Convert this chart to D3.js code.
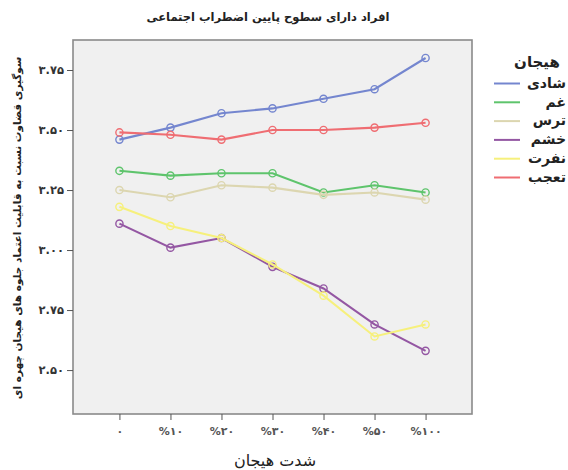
<!DOCTYPE html>
<html>
<head>
<meta charset="utf-8">
<script src="https://cdn.jsdelivr.net/npm/d3@7"></script>
<style>
  body { margin: 0; background: #fff; }
  text { font-family: "DejaVu Sans", sans-serif; }
</style>
</head>
<body>
<div id="chart"></div>
<script>
// data
var categories = ["0", "10", "20", "30", "40", "50", "100"];
var seriesNames = ["شادی", "غم", "ترس", "خشم", "نفرت", "تعجب"];
var seriesColors = ["#7486cf", "#5ec46c", "#dcd6b0", "#9457a3", "#f6f07c", "#ef6d72"];
var shadi = [3.46, 3.51, 3.57, 3.59, 3.63, 3.67, 3.80];
var gham = [3.33, 3.31, 3.32, 3.32, 3.24, 3.27, 3.24];
var tars = [3.25, 3.22, 3.27, 3.26, 3.23, 3.24, 3.21];
var khashm = [3.11, 3.01, 3.05, 2.93, 2.84, 2.69, 2.58];
var nefrat = [3.18, 3.10, 3.05, 2.94, 2.81, 2.64, 2.69];
var taajob = [3.49, 3.48, 3.46, 3.50, 3.50, 3.51, 3.53];
var yTicks = [2.5, 2.75, 3.0, 3.25, 3.5, 3.75];

var allSeries = [shadi, gham, tars, khashm, nefrat, taajob];

var fa = function (s) {
    return String(s).replace(/\d/g, function (d) { return "۰۱۲۳۴۵۶۷۸۹"[d]; });
};

var W = 568, H = 470;
var box = { left: 73, right: 472, top: 40, bottom: 414 };

var svg = d3.select("#chart")
    .append("svg")
    .attr("width", W)
    .attr("height", H);

var x = d3.scalePoint()
    .domain(categories)
    .range([box.left, box.right])
    .padding(0.91);

var y = d3.scaleLinear()
    .domain([2.317, 3.875])
    .range([box.bottom, box.top]);

// plot background + frame
svg.append("rect")
    .attr("x", box.left)
    .attr("y", box.top)
    .attr("width", box.right - box.left)
    .attr("height", box.bottom - box.top)
    .attr("fill", "#f0f0f0")
    .attr("stroke", "#8a8a8a")
    .attr("stroke-width", 1.6);

// axes
var yAxis = svg.append("g")
    .attr("transform", "translate(" + box.left + ",0)")
    .call(d3.axisLeft(y).tickValues(yTicks).tickSize(6).tickSizeOuter(0)
        .tickFormat(function (d) { return fa(d3.format(".2f")(d)); }));
yAxis.select(".domain").remove();
yAxis.selectAll("line").attr("stroke", "#555");
yAxis.selectAll("text")
    .attr("font-size", 11.5)
    .attr("font-weight", "bold")
    .attr("fill", "#333")
    .attr("font-family", "DejaVu Sans");

var xAxis = svg.append("g")
    .attr("transform", "translate(0," + box.bottom + ")")
    .call(d3.axisBottom(x).tickSize(6).tickSizeOuter(0)
        .tickFormat(function (d) { return d === "0" ? fa(d) : "%" + fa(d); }));
xAxis.select(".domain").remove();
xAxis.selectAll("line").attr("stroke", "#555");
xAxis.selectAll("text")
    .attr("dy", "1.1em")
    .attr("font-size", 11)
    .attr("font-weight", "bold")
    .attr("fill", "#555")
    .attr("font-family", "DejaVu Sans");

// lines + markers
var line = d3.line()
    .x(function (d, i) { return x(categories[i]); })
    .y(function (d) { return y(d); });

allSeries.forEach(function (vals, k) {
    var g = svg.append("g");
    g.append("path")
        .datum(vals)
        .attr("d", line)
        .attr("fill", "none")
        .attr("stroke", seriesColors[k])
        .attr("stroke-width", 2.1);
    g.selectAll("circle")
        .data(vals)
        .enter()
        .append("circle")
        .attr("cx", function (d, i) { return x(categories[i]); })
        .attr("cy", function (d) { return y(d); })
        .attr("r", 3.6)
        .attr("fill", "none")
        .attr("stroke", seriesColors[k])
        .attr("stroke-width", 1.4);
});

// titles
svg.append("text")
    .attr("x", 268)
    .attr("y", 21)
    .attr("text-anchor", "middle")
    .attr("font-size", 11.5)
    .attr("font-weight", "bold")
    .attr("fill", "#222")
    .text("افراد دارای سطوح پایین اضطراب اجتماعی");

svg.append("text")
    .attr("transform", "translate(21,228) rotate(-90)")
    .attr("text-anchor", "middle")
    .attr("font-size", 10.5)
    .attr("font-weight", "bold")
    .attr("fill", "#222")
    .text("سوگیری قضاوت نسبت به قابلیت اعتماد جلوه های هیجان چهره ای");

svg.append("text")
    .attr("x", 275)
    .attr("y", 466)
    .attr("text-anchor", "middle")
    .attr("font-size", 16)
    .attr("fill", "#222")
    .text("شدت هیجان");

// legend
var legend = svg.append("g");
legend.append("text")
    .attr("x", 537)
    .attr("y", 67)
    .attr("text-anchor", "middle")
    .attr("font-size", 15)
    .attr("font-weight", "bold")
    .attr("fill", "#222")
    .text("هیجان");

seriesNames.forEach(function (name, i) {
    var ly = 83.5 + i * 18.8;
    legend.append("line")
        .attr("x1", 494).attr("x2", 520)
        .attr("y1", ly).attr("y2", ly)
        .attr("stroke", seriesColors[i])
        .attr("stroke-width", 2);
    legend.append("text")
        .attr("x", 566)
        .attr("y", ly)
        .attr("dy", "0.3em")
        .attr("text-anchor", "end")
        .attr("font-size", 14)
        .attr("font-weight", "bold")
        .attr("fill", "#222")
        .text(name);
});
</script>
</body>
</html>
